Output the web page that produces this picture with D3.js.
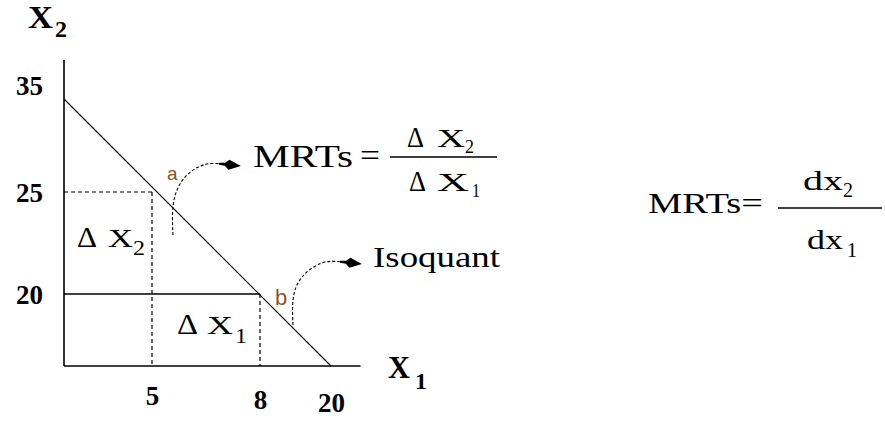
<!DOCTYPE html>
<html><head><meta charset="utf-8">
<script src="https://cdn.jsdelivr.net/npm/d3@7"></script>
<style>body{margin:0;background:#fff} svg{display:block}</style>
</head><body><svg id="c" width="885" height="421"></svg>
<script>
// ---- data ----
const xTicks = [5, 8, 20];
const yTicks = [20, 25, 35];
const isoquant = [[0, 35], [20, 0]];
const pointA = [5, 25];
const pointB = [8, 20];
const pointNames = ["a", "b"];
const axisNames = ["X", "X"];
const axisSubs = ["1", "2"];

const svg = d3.select("#c");
const serif = "'Liberation Serif','Times New Roman',serif";
const sans = "'Liberation Sans',Arial,sans-serif";

// schematic (piecewise) scales
const x = d3.scaleLinear().domain([0, 5, 8, 20]).range([64, 152, 260, 331]);
const y = d3.scaleLinear().domain([0, 20, 25, 35]).range([366, 294, 192, 99]);

function txt(px, py, s, size, weight, width, fam) {
  const t = svg.append("text").attr("x", px).attr("y", py).text(s)
    .attr("font-family", fam || serif).attr("font-size", size)
    .attr("font-weight", weight || "normal").attr("fill", "#000");
  if (width) t.attr("textLength", width).attr("lengthAdjust", "spacingAndGlyphs");
  return t;
}

// axes lines
svg.append("line").attr("x1", x(0)).attr("x2", x(0)).attr("y1", y(0)).attr("y2", y(39.2))
  .attr("stroke", "#000").attr("stroke-width", 1.6);
svg.append("line").attr("x1", x(0)).attr("x2", x(25)).attr("y1", y(0)).attr("y2", y(0))
  .attr("stroke", "#000").attr("stroke-width", 1.6);

// tick labels via axes
const gx = svg.append("g").attr("transform", `translate(0,${y(0)})`)
  .call(d3.axisBottom(x).tickValues(xTicks).tickSize(0).tickFormat(d3.format("d")));
gx.select(".domain").remove();
gx.selectAll("text").attr("y", 0).attr("dy", (d, i) => 39 + i * 3.5)
  .attr("font-family", serif).attr("font-size", 27).attr("font-weight", "bold").attr("fill", "#000");

const gy = svg.append("g").attr("transform", `translate(${x(0)},0)`)
  .call(d3.axisLeft(y).tickValues(yTicks).tickSize(0).tickFormat(d3.format("d")));
gy.select(".domain").remove();
gy.selectAll("text").attr("x", -21).attr("dy", d => d === 35 ? -5 : 9)
  .attr("font-family", serif).attr("font-size", 27).attr("font-weight", "bold").attr("fill", "#000");

// axis titles
txt(28, 28, axisNames[1], 31, "bold", 25);
txt(55, 37, axisSubs[1], 24, "bold", 12);
txt(388, 378, axisNames[0], 31, "bold", 22);
txt(415, 389, axisSubs[0], 24, "bold", 12);

// guide lines
const dash = "4,3";
svg.append("line").attr("x1", x(0)).attr("x2", x(pointA[0])).attr("y1", y(pointA[1])).attr("y2", y(pointA[1]))
  .attr("stroke", "#000").attr("stroke-width", 1.2).attr("stroke-dasharray", dash);
svg.append("line").attr("x1", x(pointA[0])).attr("x2", x(pointA[0])).attr("y1", y(pointA[1])).attr("y2", y(0))
  .attr("stroke", "#000").attr("stroke-width", 1.2).attr("stroke-dasharray", dash);
svg.append("line").attr("x1", x(pointB[0])).attr("x2", x(pointB[0])).attr("y1", y(pointB[1])).attr("y2", y(0))
  .attr("stroke", "#000").attr("stroke-width", 1.2).attr("stroke-dasharray", dash);
svg.append("line").attr("x1", x(0)).attr("x2", x(pointB[0])).attr("y1", y(pointB[1])).attr("y2", y(pointB[1]))
  .attr("stroke", "#000").attr("stroke-width", 1.5);

// isoquant
svg.append("path").datum(isoquant)
  .attr("d", d3.line().x(d => x(d[0])).y(d => y(d[1])))
  .attr("fill", "none").attr("stroke", "#000").attr("stroke-width", 1.1);

// point labels
const ax = x(pointA[0]), ay = y(pointA[1]);
const bx = x(pointB[0]), by = y(pointB[1]);
txt(ax + 15, ay - 12, pointNames[0], 19, "normal", null, sans).attr("fill", "#8a5524");
txt(bx + 15, by + 11, pointNames[1], 22, "normal", null, sans).attr("fill", "#8a5524");

// arrowhead marker
svg.append("defs").append("marker").attr("id", "ah")
  .attr("viewBox", "0 -6 24 12").attr("refX", 3).attr("refY", 0)
  .attr("markerWidth", 24).attr("markerHeight", 12).attr("markerUnits", "userSpaceOnUse")
  .attr("orient", "auto")
  .append("path").attr("d", "M0,-1 L6,-1.5 L10,-5 L22,0 L10,5 L6,1.5 L0,1 Z").attr("fill", "#000");

const curve = d3.line().curve(d3.curveBasis);
const arrowA = [[21, 43], [20, 24], [22, 2], [32, -16], [48, -27], [60, -29], [70, -28]].map(p => [ax + p[0], ay + p[1]]);
const arrowB = [[33, 31], [32, 10], [35, -8], [46, -23], [62, -32], [73, -33], [83, -32]].map(p => [bx + p[0], by + p[1]]);
[arrowA, arrowB].forEach(pts => {
  svg.append("path").attr("d", curve(pts)).attr("fill", "none").attr("stroke", "#000")
    .attr("stroke-width", 1.1).attr("stroke-dasharray", "3,2").attr("marker-end", "url(#ah)");
});

// MRTs = ΔX2 / ΔX1
txt(253, 167, "MRTs", 31, "normal", 100);
txt(360, 166, "=", 31, "normal", 20);
svg.append("line").attr("x1", 390).attr("x2", 497).attr("y1", 157).attr("y2", 157).attr("stroke", "#000").attr("stroke-width", 1.5);
txt(407, 147, "\u0394", 29, "normal", 17);
txt(437, 147, "X", 25, "normal", 28);
txt(465, 153, "2", 19, "normal", 9);
txt(409, 191, "\u0394", 29, "normal", 17);
txt(437, 191, "X", 25, "normal", 32);
txt(472, 197, "1", 19, "normal", 8);

// Isoquant label
txt(373, 267, "Isoquant", 30, "normal", 127);

// Δ labels in chart
txt(77, 247, "\u0394", 29, "normal", 20);
txt(108, 247, "X", 26, "normal", 25);
txt(133, 255, "2", 21, "normal", 12);
txt(177, 334, "\u0394", 29, "normal", 21);
txt(207, 334, "X", 26, "normal", 26);
txt(235, 343, "1", 21, "normal", 12);

// MRTs = dx2 / dx1
txt(648, 213, "MRTs=", 30, "normal", 115);
svg.append("line").attr("x1", 778).attr("x2", 882).attr("y1", 208).attr("y2", 208).attr("stroke", "#000").attr("stroke-width", 1.5);
txt(803, 190, "dx", 27, "normal", 40);
txt(843, 197, "2", 20, "normal", 10);
txt(807, 249, "dx", 27, "normal", 36);
txt(847, 257, "1", 20, "normal", 10);
</script>
</body></html>
